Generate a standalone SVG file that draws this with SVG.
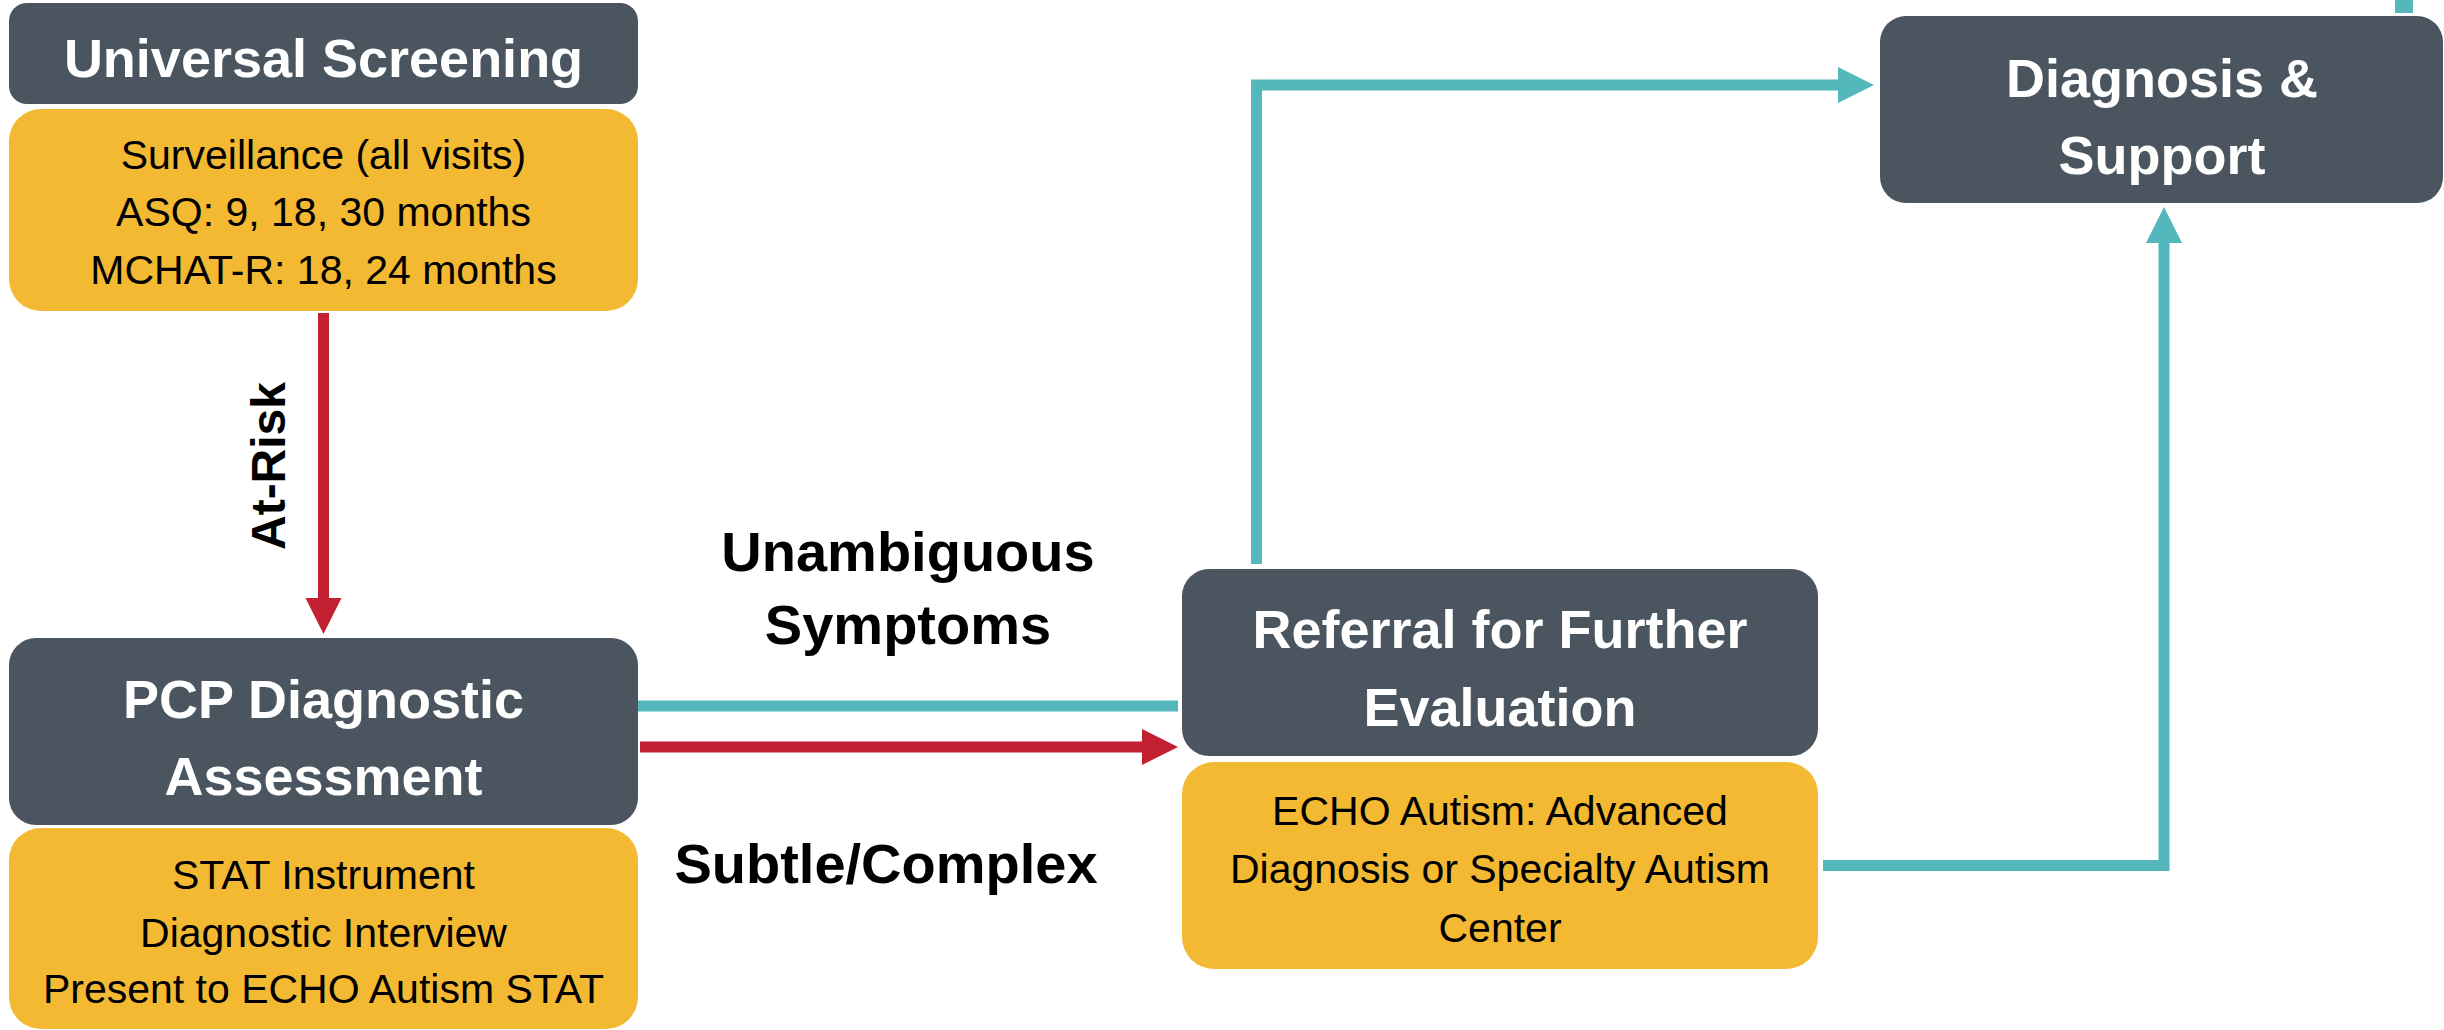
<svg xmlns="http://www.w3.org/2000/svg" width="2444" height="1030" viewBox="0 0 2444 1030">
<style>
.dark{fill:#4B5560}
.gold{fill:#F3B932}
.ht{font-family:"Liberation Sans",Arial,sans-serif;font-weight:bold;font-size:54px;fill:#FFFFFF;text-anchor:middle}
.bt{font-family:"Liberation Sans",Arial,sans-serif;font-size:41px;fill:#000000;text-anchor:middle}
.lb{font-family:"Liberation Sans",Arial,sans-serif;font-weight:bold;font-size:56px;fill:#000000;text-anchor:middle}
.cy{fill:none;stroke:#53B7BC;stroke-width:11;stroke-linejoin:miter}
.rd{fill:none;stroke:#C32032;stroke-width:11}
</style>
<defs>
<marker id="ac" markerUnits="userSpaceOnUse" markerWidth="36" markerHeight="36" viewBox="0 0 36 36" refX="1" refY="18" orient="auto"><path d="M0,0 L36,18 L0,36 Z" fill="#53B7BC"/></marker>
<marker id="ar" markerUnits="userSpaceOnUse" markerWidth="36" markerHeight="36" viewBox="0 0 36 36" refX="1" refY="18" orient="auto"><path d="M0,0 L36,18 L0,36 Z" fill="#C32032"/></marker>
</defs>
<rect width="2444" height="1030" fill="#FFFFFF"/>
<g id="connectors">
<path class="rd" d="M323.5,313 V599" marker-end="url(#ar)"/>
<path class="cy" d="M637,706 H1178"/>
<path class="rd" d="M640,747 H1143" marker-end="url(#ar)"/>
<path class="cy" d="M1256.5,564 V85 H1839" marker-end="url(#ac)"/>
<path class="cy" d="M1823,865.5 H2164 V242" marker-end="url(#ac)"/>
<path class="cy" d="M2404,0 V13" style="stroke-width:18"/>
<text class="lb" transform="translate(285,466) rotate(-90)" style="font-size:48px">At-Risk</text>
<text class="lb" x="908" y="571">Unambiguous</text>
<text class="lb" x="908" y="644">Symptoms</text>
<text class="lb" x="886" y="883">Subtle/Complex</text>
</g>
<g id="universal-screening">
<rect class="dark" x="9" y="3" width="629" height="101" rx="18"/>
<text class="ht" x="323.5" y="77">Universal Screening</text>
</g>
<g id="screening-tools">
<rect class="gold" x="9" y="109" width="629" height="202" rx="32"/>
<text class="bt" x="323.5" y="169">Surveillance (all visits)</text>
<text class="bt" x="323.5" y="226">ASQ: 9, 18, 30 months</text>
<text class="bt" x="323.5" y="284">MCHAT-R: 18, 24 months</text>
</g>
<g id="pcp-assessment">
<rect class="dark" x="9" y="638" width="629" height="187" rx="27"/>
<text class="ht" x="323.5" y="718">PCP Diagnostic</text>
<text class="ht" x="323.5" y="795">Assessment</text>
</g>
<g id="pcp-tools">
<rect class="gold" x="9" y="828" width="629" height="201" rx="32"/>
<text class="bt" x="323.5" y="889">STAT Instrument</text>
<text class="bt" x="323.5" y="947">Diagnostic Interview</text>
<text class="bt" x="323.5" y="1003">Present to ECHO Autism STAT</text>
</g>
<g id="referral">
<rect class="dark" x="1182" y="569" width="636" height="187" rx="27"/>
<text class="ht" x="1500" y="648">Referral for Further</text>
<text class="ht" x="1500" y="726">Evaluation</text>
</g>
<g id="referral-options">
<rect class="gold" x="1182" y="762" width="636" height="207" rx="32"/>
<text class="bt" x="1500" y="825">ECHO Autism: Advanced</text>
<text class="bt" x="1500" y="883">Diagnosis or Specialty Autism</text>
<text class="bt" x="1500" y="942">Center</text>
</g>
<g id="diagnosis-support">
<rect class="dark" x="1880" y="16" width="563" height="187" rx="26"/>
<text class="ht" x="2162" y="97">Diagnosis &amp;</text>
<text class="ht" x="2162" y="174">Support</text>
</g>
</svg>
